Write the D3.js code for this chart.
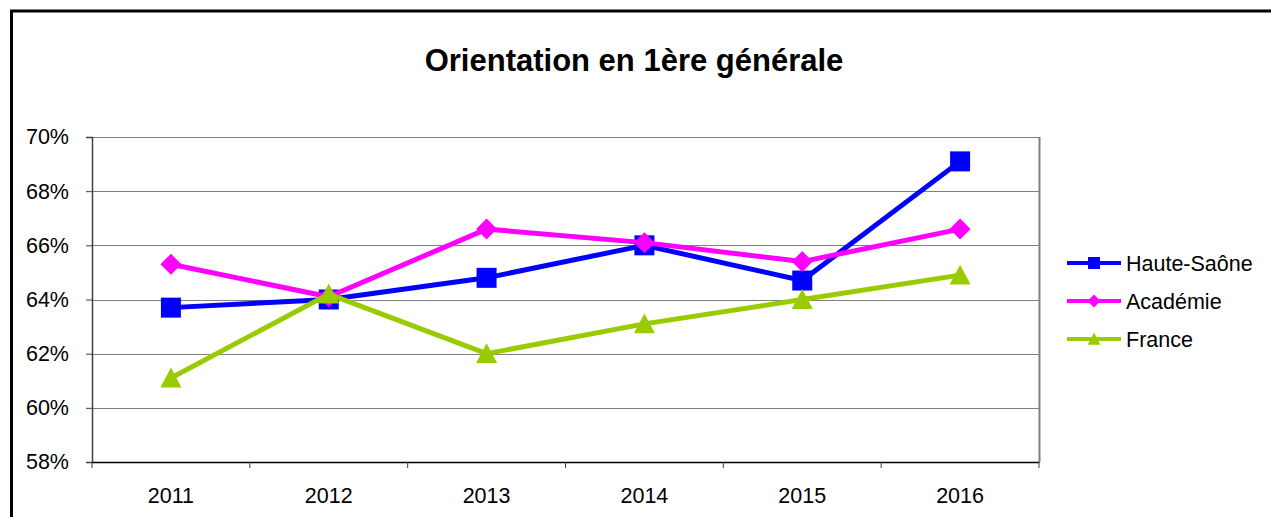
<!DOCTYPE html>
<html><head><meta charset="utf-8">
<script src="https://cdn.jsdelivr.net/npm/d3@7"></script>
<style>body{margin:0;background:#fff}svg{display:block}text{font-family:"Liberation Sans",Arial,sans-serif}</style>
</head><body>
<script>
const years = ["2011","2012","2013","2014","2015","2016"];
const hauteSaone = [63.7, 64.0, 64.8, 66.0, 64.7, 69.1];
const academie = [65.3, 64.1, 66.6, 66.1, 65.4, 66.6];
const france = [61.1, 64.2, 62.0, 63.1, 64.0, 64.9];
const yTicks = [58, 60, 62, 64, 66, 68, 70];
const seriesNames = ["Haute-Saône", "Académie", "France"];
const seriesColors = ["#0000FF", "#FF00FF", "#99CC00"];
const title = "Orientation en 1ère générale";

const W = 1271, H = 517;
const svg = d3.select("body").append("svg").attr("width", W).attr("height", H);
svg.append("rect").attr("x", 11.5).attr("y", 11).attr("width", 1400).attr("height", 700)
  .attr("fill", "#fff").attr("stroke", "#000").attr("stroke-width", 3);

const L = 92, R = 1039, T = 137, B = 462;
const x = d3.scaleBand().domain(years).range([L, R]);
const y = d3.scaleLinear().domain([58, 70]).range([B, T]);

svg.append("text").attr("x", 634).attr("y", 71).attr("text-anchor", "middle")
  .attr("font-size", 31).attr("font-weight", "bold").text(title);

// gridlines
svg.append("g").selectAll("line").data(yTicks.slice(1)).join("line")
  .attr("x1", L).attr("x2", R).attr("y1", d => Math.round(y(d)) + 0.5).attr("y2", d => Math.round(y(d)) + 0.5)
  .attr("stroke", "#808080").attr("stroke-width", 1.2);
svg.append("line").attr("x1", R + 0.5).attr("x2", R + 0.5).attr("y1", T).attr("y2", B)
  .attr("stroke", "#808080").attr("stroke-width", 2);

const FF = '"Liberation Sans",Arial,sans-serif';
const yAxis = svg.append("g").attr("transform", `translate(${L},0)`)
  .call(d3.axisLeft(y).tickValues(yTicks).tickFormat(d => d + "%").tickSize(6).tickPadding(17));
yAxis.selectAll("text").attr("font-size", 21.5).attr("fill", "#000").attr("font-family", FF);
yAxis.select(".domain").attr("stroke", "#404040").attr("stroke-width", 1.5);
yAxis.selectAll(".tick line").attr("stroke", "#404040");

const xAxis = svg.append("g").attr("transform", `translate(0,${B})`)
  .call(d3.axisBottom(x).tickSize(0).tickPadding(26));
xAxis.selectAll("text").attr("font-size", 21.5).attr("fill", "#000").attr("font-family", FF);
xAxis.select(".domain").attr("stroke", "#000").attr("stroke-width", 1.5);
svg.append("g").selectAll("line").data(years.concat(["end"])).join("line")
  .attr("x1", (d, i) => L + i * x.step()).attr("x2", (d, i) => L + i * x.step())
  .attr("y1", B).attr("y2", B + 6).attr("stroke", "#404040").attr("stroke-width", 1);

// marker shapes
function marker(s, r) {
  if (s === 0) return `M${-r},${-r}H${r}V${r}H${-r}Z`;
  if (s === 1) return `M0,${-r}L${r},0L0,${r}L${-r},0Z`;
  return `M0,${-r}L${r},${r * 0.9}L${-r},${r * 0.9}Z`;
}

const data = [hauteSaone, academie, france];
const markerR = [10, 10.5, 10.5];
const line = d3.line().x((d, i) => x(years[i]) + x.bandwidth() / 2).y(d => y(d));
data.forEach((vals, s) => {
  const g = svg.append("g");
  g.append("path").attr("d", line(vals)).attr("fill", "none")
    .attr("stroke", seriesColors[s]).attr("stroke-width", 5).attr("stroke-linejoin", "round");
  g.selectAll("path.m").data(vals).join("path").attr("class", "m")
    .attr("transform", (d, i) => `translate(${x(years[i]) + x.bandwidth() / 2},${y(d)})`)
    .attr("d", marker(s, markerR[s]))
    .attr("fill", seriesColors[s]);
});

const legendY = [263, 301, 339];
const legendR = [6, 6.5, 6.5];
seriesNames.forEach((n, s) => {
  const g = svg.append("g").attr("transform", `translate(0,${legendY[s]})`);
  g.append("line").attr("x1", 1067).attr("x2", 1121).attr("stroke", seriesColors[s]).attr("stroke-width", 4);
  g.append("path").attr("transform", `translate(1094,0)`)
    .attr("d", marker(s, legendR[s])).attr("fill", seriesColors[s]);
  g.append("text").attr("x", 1126).attr("y", 7.5).attr("font-size", 21.5).attr("font-family", FF).text(n);
});
</script>
</body></html>
